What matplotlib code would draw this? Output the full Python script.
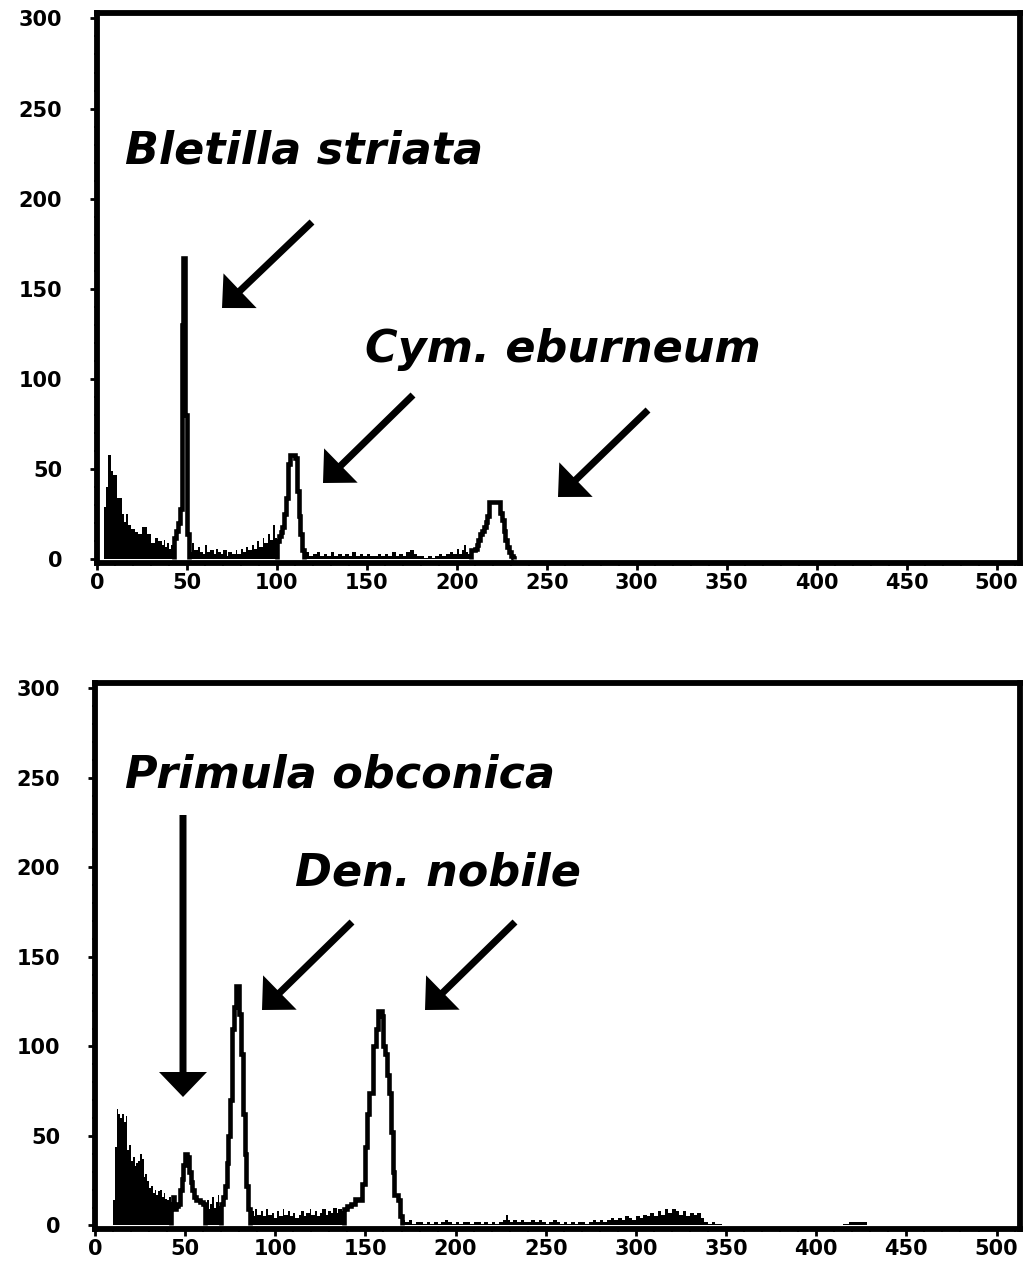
import numpy as np
import matplotlib
matplotlib.use("Agg")
import matplotlib.pyplot as plt
from matplotlib.ticker import MultipleLocator
from matplotlib.patches import FancyArrow

# ---------------- data (histogram bins: start channel -> count) ----------------
CHANNEL_MAX = 513

top_channels = [0, 4, 5, 6, 8, 9, 11, 14, 15, 16, 17, 19, 21, 23, 25, 28, 30, 32, 34, 36,
                37, 38, 39, 40, 41, 42, 43, 44, 45, 46, 47, 48, 49, 50, 51, 52, 53, 54, 56, 57,
                59, 60, 61, 63, 65, 66, 67, 69, 70, 72, 73, 75, 77, 78, 80, 81, 83, 84, 86, 87,
                89, 90, 92, 93, 95, 96, 98, 99, 100, 101, 102, 103, 104, 105, 106, 107, 110, 111, 112, 113,
                114, 115, 116, 118, 120, 122, 124, 126, 128, 130, 132, 134, 136, 138, 140, 142, 144, 146, 148, 150,
                152, 154, 156, 158, 160, 162, 164, 166, 168, 170, 172, 174, 176, 178, 180, 182, 184, 186, 188, 190,
                192, 194, 196, 198, 200, 201, 203, 204, 205, 206, 208, 210, 211, 212, 213, 214, 215, 216, 217, 218,
                224, 225, 226, 227, 228, 229, 230, 231, 232]
top_counts = [0, 29, 40, 58, 49, 47, 34, 25, 21, 25, 19, 17, 15, 14, 18, 14, 9, 12, 10, 8,
              11, 7, 9, 6, 8, 10, 12, 16, 20, 28, 130, 167, 80, 14, 6, 4, 9, 5, 7, 4,
              3, 8, 4, 5, 3, 6, 4, 3, 5, 2, 4, 3, 5, 3, 6, 4, 7, 5, 8, 6,
              10, 7, 12, 9, 14, 11, 19, 12, 10, 13, 15, 18, 25, 34, 53, 58, 56, 38, 24, 14,
              5, 3, 4, 2, 3, 4, 2, 3, 2, 4, 2, 3, 2, 3, 2, 4, 2, 3, 2, 3,
              2, 2, 3, 2, 3, 2, 4, 2, 3, 2, 4, 5, 3, 2, 2, 1, 2, 1, 2, 3,
              2, 3, 4, 3, 6, 3, 5, 8, 4, 3, 5, 6, 8, 11, 14, 16, 18, 21, 24, 32,
              26, 22, 16, 11, 7, 4, 2, 1, 0]
top_gates = [(43, 51), (100, 115), (207, 232)]

bot_channels = [0, 10, 11, 12, 13, 14, 15, 16, 17, 18, 19, 20, 21, 22, 23, 24, 25, 26, 27, 28,
                29, 30, 31, 32, 33, 34, 35, 36, 37, 38, 39, 40, 41, 42, 43, 44, 45, 46, 47, 48,
                49, 50, 51, 52, 53, 54, 55, 56, 58, 60, 61, 62, 63, 64, 65, 66, 67, 68, 69, 70,
                71, 72, 73, 74, 75, 76, 77, 78, 80, 81, 82, 83, 84, 85, 86, 87, 88, 89, 90, 92,
                93, 95, 96, 98, 99, 101, 102, 104, 105, 107, 108, 110, 111, 113, 114, 116, 117, 119, 120, 122,
                123, 125, 126, 128, 129, 131, 132, 134, 135, 137, 138, 140, 142, 144, 146, 148, 150, 151, 152, 154,
                156, 157, 159, 160, 161, 162, 163, 164, 165, 166, 168, 169, 170, 172, 174, 176, 178, 180, 182, 184,
                186, 188, 190, 192, 194, 196, 198, 200, 202, 204, 206, 208, 210, 212, 214, 216, 218, 220, 222, 224,
                226, 228, 229, 230, 232, 234, 236, 238, 240, 242, 244, 246, 248, 250, 252, 254, 256, 258, 260, 262,
                264, 266, 268, 270, 272, 274, 276, 278, 280, 282, 284, 286, 288, 290, 292, 294, 296, 298, 300, 302,
                304, 306, 308, 310, 312, 314, 316, 318, 320, 322, 324, 326, 328, 330, 332, 334, 336, 338, 340, 342,
                344, 346, 348, 415, 418, 428]
bot_counts = [0, 14, 44, 65, 62, 60, 62, 58, 61, 42, 45, 36, 38, 33, 35, 36, 40, 37, 27, 29,
              25, 21, 22, 18, 20, 17, 19, 20, 16, 18, 15, 14, 16, 12, 16, 9, 11, 12, 20, 26,
              34, 40, 38, 30, 24, 20, 16, 14, 13, 12, 10, 14, 9, 12, 16, 10, 13, 17, 11, 12,
              16, 22, 35, 50, 70, 110, 122, 134, 118, 96, 62, 40, 22, 9, 6, 8, 5, 9, 6, 8,
              5, 9, 6, 7, 4, 8, 5, 9, 6, 8, 5, 7, 4, 6, 8, 5, 7, 9, 6, 8,
              5, 7, 9, 6, 8, 7, 10, 7, 9, 8, 9, 11, 12, 15, 14, 23, 44, 62, 74, 100,
              110, 120, 117, 100, 96, 84, 74, 52, 30, 17, 14, 5, 3, 2, 3, 1, 2, 2, 1, 2,
              1, 2, 1, 2, 3, 2, 1, 2, 1, 2, 2, 1, 2, 2, 1, 2, 1, 2, 1, 2,
              3, 6, 3, 2, 3, 2, 3, 2, 2, 3, 2, 3, 2, 1, 2, 3, 2, 1, 2, 1,
              2, 1, 2, 2, 1, 2, 3, 2, 3, 2, 3, 4, 3, 4, 3, 5, 4, 3, 5, 4,
              6, 5, 7, 5, 8, 6, 9, 7, 9, 8, 6, 8, 5, 7, 6, 7, 4, 2, 1, 2,
              1, 1, 0, 1, 2, 0]
bot_gates = [(42, 61), (70, 86), (138, 170)]

x_ticks = [0, 50, 100, 150, 200, 250, 300, 350, 400, 450, 500]
y_ticks = [0, 50, 100, 150, 200, 250, 300]

# ---------------- figure ----------------
W, H = 1029, 1267
fig = plt.figure(figsize=(W / 100, H / 100), dpi=100)
fig.patch.set_facecolor("white")

def px_axes(left, top, right, bottom):
    return fig.add_axes([left / W, 1 - bottom / H, (right - left) / W, (bottom - top) / H])

ax_top = px_axes(97, 13, 1020, 563)
ax_bot = px_axes(95, 683, 1020, 1229)

def draw_hist(ax, chans, counts, gates):
    edges = np.array(chans + [CHANNEL_MAX], dtype=float)
    vals = np.array(counts, dtype=float)
    starts = edges[:-1]
    ax.stairs(vals, edges, fill=True, color="black", zorder=2)
    for lo, hi in gates:
        idx = np.where((starts >= lo) & (starts < hi))[0]
        e = np.append(edges[idx], edges[idx[-1] + 1])
        v = vals[idx]
        ax.stairs(v, e, fill=True, facecolor="white", edgecolor="none", zorder=3)
        ax.stairs(v, e, fill=False, color="black", lw=3.3, zorder=4)

def style_axes(ax):
    ax.set_xlim(0, CHANNEL_MAX)
    ax.set_ylim(-2, 303)
    ax.set_xticks(x_ticks)
    ax.set_yticks(y_ticks)
    ax.xaxis.set_minor_locator(MultipleLocator(10))
    ax.yaxis.set_minor_locator(MultipleLocator(10))
    for s in ax.spines.values():
        s.set_linewidth(4.2)
        s.set_color("black")
    ax.tick_params(axis="both", which="major", direction="out", length=5, width=2,
                   labelsize=15, top=False, right=False)
    ax.tick_params(axis="both", which="minor", direction="out", length=2.5, width=1.2,
                   top=False, right=False)
    ax.tick_params(axis="y", which="major", pad=20)
    ax.tick_params(axis="x", which="major", pad=2)
    for lab in ax.get_xticklabels() + ax.get_yticklabels():
        lab.set_fontweight("heavy")
        lab.set_family("DejaVu Sans")

draw_hist(ax_top, top_channels, top_counts, top_gates)
draw_hist(ax_bot, bot_channels, bot_counts, bot_gates)
style_axes(ax_top)
style_axes(ax_bot)

# ---------------- overlay for labels and arrows (pixel coordinates) ----------------
ov = fig.add_axes([0, 0, 1, 1], zorder=10)
ov.set_xlim(0, W)
ov.set_ylim(H, 0)
ov.axis("off")
ov.patch.set_alpha(0)

label_kw = dict(fontsize=32, fontweight="bold", fontstyle="italic", family="DejaVu Sans",
                color="black", va="baseline", ha="left")
ov.text(125, 163, "Bletilla striata", **label_kw)
ov.text(365, 362, "Cym. eburneum", **label_kw)
ov.text(125, 787, "Primula obconica", **label_kw)
ov.text(295, 886, "Den. nobile", **label_kw)

arrows = [((312, 222), (222, 308)),
          ((413, 395), (323, 483)),
          ((648, 410), (558, 497)),
          ((183, 815), (183, 1097)),
          ((352, 922), (262, 1010)),
          ((515, 922), (425, 1010))]
for (x0, y0), (x1, y1) in arrows:
    ov.add_patch(FancyArrow(x0, y0, x1 - x0, y1 - y0, width=7, head_width=48,
                            head_length=25, length_includes_head=True,
                            color="black", lw=0))

fig.savefig("out.png", dpi=100, facecolor="white")
